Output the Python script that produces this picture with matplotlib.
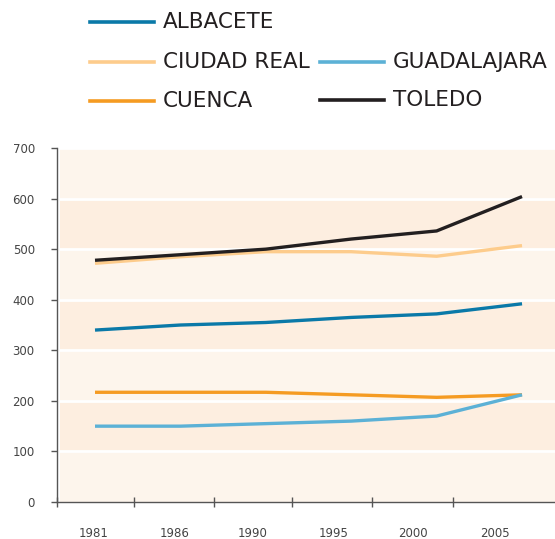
import numpy as np
import matplotlib.pyplot as plt
from matplotlib.lines import Line2D

years = ["1981", "1986", "1990", "1995", "2000", "2005"]
albacete = [340, 350, 355, 365, 372, 392]
ciudad_real = [472, 485, 495, 495, 486, 507]
cuenca = [217, 217, 217, 212, 207, 212]
guadalajara = [150, 150, 155, 160, 170, 212]
toledo = [478, 489, 500, 520, 536, 604]

series = [
    ("ALBACETE", albacete, "#0a79a8"),
    ("CIUDAD REAL", ciudad_real, "#fdcc8c"),
    ("CUENCA", cuenca, "#f59b22"),
    ("GUADALAJARA", guadalajara, "#5cb1d6"),
    ("TOLEDO", toledo, "#231f20"),
]

# ── Figure ───────────────────────────────────────────────────────────
W, H = 555, 539
fig = plt.figure(figsize=(W / 100, H / 100), dpi=100)
ax = fig.add_axes([0.1027, 0.0686, 0.8973, 0.6568])

x = np.arange(len(years))
ax.set_xlim(-0.445, 5.386)
ax.set_ylim(0, 700)

# alternating bands
band_cols = ["#fdf5ec", "#fdeee0"]
for i, lo in enumerate(range(0, 700, 100)):
    ax.axhspan(lo, lo + 100, xmin=0.006, color=band_cols[i % 2], lw=0, zorder=0)
for v in range(100, 701, 100):
    ax.axhline(v, xmin=0.006, color="white", lw=2, zorder=1)

for name, vals, col in series:
    ax.plot(x, vals, color=col, lw=2.4, zorder=3, solid_capstyle="butt")

for s in ("top", "right"):
    ax.spines[s].set_visible(False)
for s in ("left", "bottom"):
    ax.spines[s].set_color("#555555")
    ax.spines[s].set_linewidth(1.0)

ax.set_yticks(range(0, 701, 100))
ax.tick_params(axis="y", direction="out", length=4, width=1, color="#555555",
               labelsize=8.5, labelcolor="#444444", pad=12)

# tick marks between categories, labels under the categories
ax.set_xticks([-0.445, 0.457, 1.39, 2.31, 3.24, 4.19])
ax.set_xticklabels([])
ax.tick_params(axis="x", which="major", direction="inout", length=7, width=1,
               color="#555555")
ax.set_xticks([-0.02, 0.93, 1.85, 2.79, 3.72, 4.68], minor=True)
ax.set_xticklabels(years, minor=True)
ax.tick_params(axis="x", which="minor", length=0, labelsize=8.5,
               labelcolor="#444444", pad=18)

# ── Legend (drawn by hand in pixel positions) ────────────────────────
legend_items = [
    ("ALBACETE", 90, 22), ("CIUDAD REAL", 90, 62), ("CUENCA", 90, 101),
    ("GUADALAJARA", 320, 62), ("TOLEDO", 320, 100),
]
colors = {name: col for name, _, col in series}
for name, px, py in legend_items:
    yf = 1 - py / H
    fig.add_artist(Line2D([px / W, (px + 64) / W], [yf, yf],
                          color=colors[name], lw=2.6,
                          transform=fig.transFigure))
    fig.text((px + 73) / W, yf, name, fontsize=15.5, color="#231f20",
             va="center", ha="left")

fig.savefig("out.png", dpi=100)
